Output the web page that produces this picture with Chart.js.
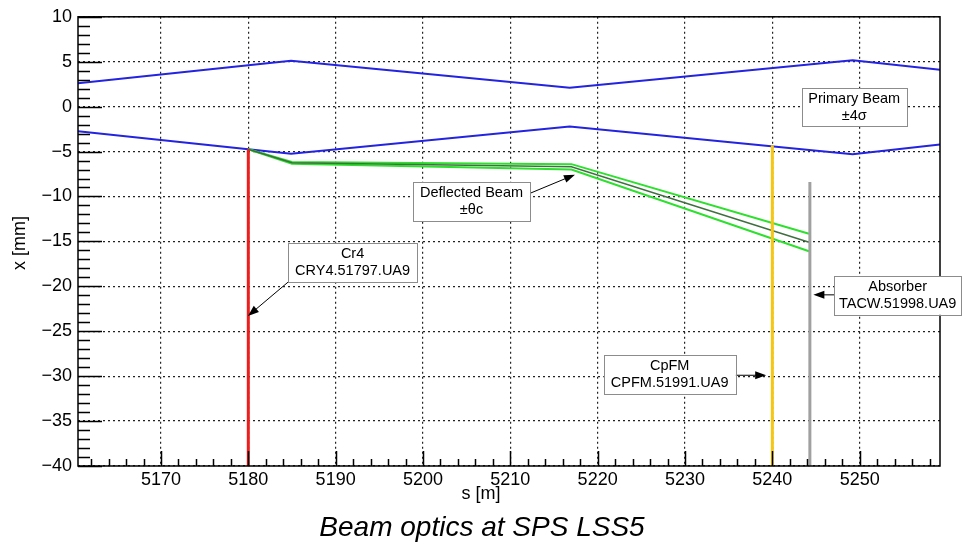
<!DOCTYPE html>
<html>
<head>
<meta charset="utf-8">
<script src="https://cdn.jsdelivr.net/npm/chart.js@4.4.1/dist/chart.umd.min.js"></script>
<style>
  html, body { margin: 0; padding: 0; background: #fff; }
  #wrap { width: 962px; height: 549px; position: relative; }
</style>
</head>
<body>
<div id="wrap"><canvas id="optics"></canvas></div>
<script>
// Axis ranges and tick labels
const sRange = [5160.5, 5259.2];
const xRange = [-40, 10];
const sTicks = [5170, 5180, 5190, 5200, 5210, 5220, 5230, 5240, 5250];

// Primary beam envelope (±4 sigma)
const envS = [5160.5, 5180, 5184.9, 5216.8, 5249.2, 5259.2];
const envUpper = [2.6, 4.6, 5.1, 2.1, 5.15, 4.1];
const envLower = [-2.75, -4.75, -5.25, -2.2, -5.3, -4.2];

// Deflected beam (±theta_c)
const deflS = [5180, 5185, 5217, 5244.2];
const deflUpper = [-4.75, -6.15, -6.4, -14.15];
const deflCenter = [-4.75, -6.25, -6.7, -15.1];
const deflLower = [-4.75, -6.35, -7.0, -16.1];

// Devices: position and top of the vertical marker
const deviceNames = ['Cr4', 'CpFM', 'Absorber'];
const deviceS = [5180, 5240, 5244.3];
const deviceTop = [-4.75, -4.3, -8.4];

const pts = (xs, ys) => xs.map((x, i) => ({ x: x, y: ys[i] }));

// Text boxes, placed in data coordinates (s, x)
const notes = [
    { lines: ['Primary Beam', '±4σ'], box: [5243.35, 2.03, 5255.4, -2.25] },
    { lines: ['Deflected Beam', '±θc'], box: [5198.86, -8.39, 5212.25, -12.75], arrow: [5212.25, -9.65, 5217.4, -7.57] },
    { lines: ['Cr4', 'CRY4.51797.UA9'], box: [5184.58, -15.15, 5199.3, -19.51], arrow: [5184.58, -19.51, 5179.96, -23.3] },
    { lines: ['Absorber', 'TACW.51998.UA9'], box: [5247.1, -18.85, 5261.6, -23.17], arrow: [5247.1, -20.95, 5244.7, -20.95] },
    { lines: ['CpFM', 'CPFM.51991.UA9'], box: [5220.7, -27.7, 5235.8, -32.0], arrow: [5235.8, -29.9, 5239.3, -29.9] }
];

const deviceColors = ['#ee1c1c', '#f7c613', '#a0a0a0'];

const rootPlugin = {
    id: 'rootDecor',
    afterDraw(chart) {
        const ctx = chart.ctx;
        const a = chart.chartArea;
        const xs = chart.scales.x, ys = chart.scales.y;
        ctx.save();

        // frame
        ctx.strokeStyle = '#000';
        ctx.lineWidth = 1.5;
        ctx.strokeRect(a.left, a.top, a.right - a.left, a.bottom - a.top);

        // inward ticks
        ctx.lineWidth = 1.5;
        ctx.beginPath();
        for (let v = 5162; v <= sRange[1]; v += 2) {
            const px = Math.round(xs.getPixelForValue(v)) + 0.5;
            const len = v % 10 === 0 ? 15 : 7;
            ctx.moveTo(px, a.bottom);
            ctx.lineTo(px, a.bottom - len);
        }
        for (let v = xRange[0]; v <= xRange[1]; v += 1) {
            const py = Math.round(ys.getPixelForValue(v)) + 0.5;
            const len = v % 5 === 0 ? 24 : 12;
            ctx.moveTo(a.left, py);
            ctx.lineTo(a.left + len, py);
        }
        ctx.stroke();

        // annotation boxes
        ctx.font = '14.5px "Liberation Sans", Arial, sans-serif';
        ctx.textAlign = 'center';
        ctx.textBaseline = 'middle';
        notes.forEach(n => {
            const x1 = xs.getPixelForValue(n.box[0]), y1 = ys.getPixelForValue(n.box[1]);
            const x2 = xs.getPixelForValue(n.box[2]), y2 = ys.getPixelForValue(n.box[3]);
            if (n.arrow) {
                const ax = xs.getPixelForValue(n.arrow[0]), ay = ys.getPixelForValue(n.arrow[1]);
                const bx = xs.getPixelForValue(n.arrow[2]), by = ys.getPixelForValue(n.arrow[3]);
                const ang = Math.atan2(by - ay, bx - ax);
                ctx.strokeStyle = '#000';
                ctx.lineWidth = 1;
                ctx.beginPath();
                ctx.moveTo(ax, ay);
                ctx.lineTo(bx - 8 * Math.cos(ang), by - 8 * Math.sin(ang));
                ctx.stroke();
                ctx.fillStyle = '#000';
                ctx.beginPath();
                ctx.moveTo(bx, by);
                ctx.lineTo(bx - 11 * Math.cos(ang) + 4 * Math.sin(ang), by - 11 * Math.sin(ang) - 4 * Math.cos(ang));
                ctx.lineTo(bx - 11 * Math.cos(ang) - 4 * Math.sin(ang), by - 11 * Math.sin(ang) + 4 * Math.cos(ang));
                ctx.closePath();
                ctx.fill();
            }
            ctx.fillStyle = '#fff';
            ctx.fillRect(x1, y1, x2 - x1, y2 - y1);
            ctx.strokeStyle = '#8c8c8c';
            ctx.lineWidth = 1;
            ctx.strokeRect(Math.round(x1) + 0.5, Math.round(y1) + 0.5, Math.round(x2 - x1), Math.round(y2 - y1));
            ctx.fillStyle = '#000';
            const cx = (x1 + x2) / 2, cy = (y1 + y2) / 2;
            ctx.fillText(n.lines[0], cx, cy - 8.5);
            ctx.fillText(n.lines[1], cx, cy + 8.5);
        });

        // axis titles
        ctx.fillStyle = '#000';
        ctx.font = '18px "Liberation Sans", Arial, sans-serif';
        ctx.fillText('s [m]', 481, 494);
        ctx.save();
        ctx.translate(20, 243);
        ctx.rotate(-Math.PI / 2);
        ctx.fillText('x [mm]', 0, 0);
        ctx.restore();

        // main title
        ctx.font = 'italic 28px "Liberation Sans", Arial, sans-serif';
        ctx.textBaseline = 'alphabetic';
        ctx.fillText('Beam optics at SPS LSS5', 482, 536);
        ctx.restore();
    }
};

const datasets = [];
deviceNames.forEach((name, i) => {
    datasets.push({
        label: name,
        data: [{ x: deviceS[i], y: deviceTop[i] }, { x: deviceS[i], y: xRange[0] }],
        borderColor: deviceColors[i],
        borderWidth: 3
    });
});
datasets.push(
    { label: 'Deflected centre', data: pts(deflS, deflCenter), borderColor: '#3f6f3f', borderWidth: 1.5 },
    { label: 'Deflected +', data: pts(deflS, deflUpper), borderColor: '#2de02d', borderWidth: 2 },
    { label: 'Deflected -', data: pts(deflS, deflLower), borderColor: '#2de02d', borderWidth: 2 },
    { label: 'Envelope +', data: pts(envS, envUpper), borderColor: '#2323e0', borderWidth: 2 },
    { label: 'Envelope -', data: pts(envS, envLower), borderColor: '#2323e0', borderWidth: 2 }
);

new Chart(document.getElementById('optics'), {
    type: 'line',
    data: { datasets: datasets },
    options: {
        responsive: true,
        maintainAspectRatio: false,
        animation: false,
        events: [],
        elements: { point: { radius: 0 }, line: { tension: 0 } },
        layout: { padding: { top: 15, right: 22, left: 0, bottom: 0 } },
        plugins: { legend: { display: false }, tooltip: { enabled: false } },
        scales: {
            x: {
                type: 'linear',
                min: sRange[0],
                max: sRange[1],
                afterFit: s => { s.height = 83; },
                afterBuildTicks: s => { s.ticks = sTicks.map(v => ({ value: v })); },
                ticks: {
                    padding: 3,
                    color: '#000',
                    maxRotation: 0,
                    font: { family: '"Liberation Sans", Arial, sans-serif', size: 18 },
                    callback: v => String(v)
                },
                grid: { color: '#222', lineWidth: 1.2, drawTicks: false },
                border: { display: false, dash: [2, 3] }
            },
            y: {
                type: 'linear',
                min: xRange[0],
                max: xRange[1],
                afterFit: s => { s.width = 78; },
                ticks: {
                    stepSize: 5,
                    padding: 6,
                    color: '#000',
                    font: { family: '"Liberation Sans", Arial, sans-serif', size: 18 },
                    callback: v => String(v).replace('-', '\u2212')
                },
                grid: { color: '#222', lineWidth: 1.2, drawTicks: false },
                border: { display: false, dash: [2, 3] }
            }
        }
    },
    plugins: [rootPlugin]
});
</script>
</body>
</html>
